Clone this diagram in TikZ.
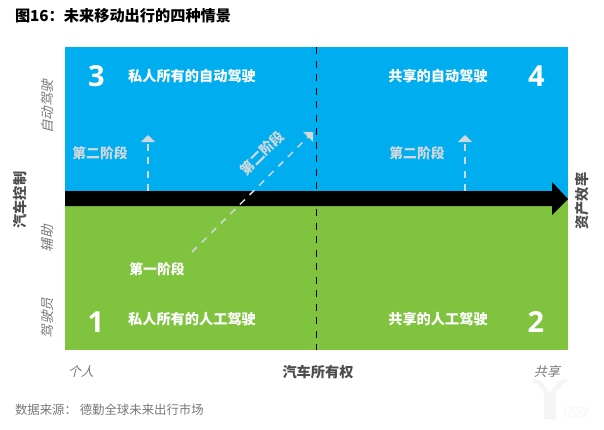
\documentclass[tikz,border=0pt]{standalone}
\usepackage{fontspec}
\setmainfont{Open Sans}
\newfontfamily\cjk{Noto Sans CJK SC}
\usetikzlibrary{arrows.meta}
\definecolor{skyb}{HTML}{00AEEF}
\definecolor{leaf}{HTML}{80C33F}
\definecolor{pale}{HTML}{CFD8DC}
\definecolor{greyt}{HTML}{77787B}
\definecolor{darkt}{HTML}{4D4D4F}
\definecolor{wmk}{HTML}{F5F5F5}
\tikzset{
 x=1pt,y=-1pt,
 nd/.style={inner sep=0pt,outer sep=0pt},
 scen/.style={nd,text=white,font=\cjk\bfseries\fontsize{14.2}{16}\selectfont},
 num/.style={nd,text=white,font=\bfseries\fontsize{29}{32}\selectfont},
 stage/.style={nd,text=pale,font=\cjk\bfseries\fontsize{13.8}{16}\selectfont},
 stage1/.style={nd,text=white,font=\cjk\bfseries\fontsize{13.8}{16}\selectfont},
 axisb/.style={nd,text=darkt,font=\cjk\bfseries\fontsize{14.2}{16}\selectfont},
 tick/.style={nd,text=greyt,font=\cjk\fontsize{13}{15}\selectfont,xslant=0.25},
 vtick/.style={nd,text=greyt,font=\cjk\fontsize{13.4}{15}\selectfont,rotate=90,xslant=0.25},
 dsh/.style={draw=pale,line width=1.5pt,dash pattern=on 7pt off 6.5pt},
 tipa/.style={-{Triangle[width=14pt,length=7pt]}},
}
\begin{document}
\begin{tikzpicture}
\useasboundingbox (0,0) rectangle (604,429);
\fill[skyb] (65,47) rectangle (568,199);
\fill[leaf] (65,199) rectangle (568,350);
\draw[black,line width=1.9pt,dash pattern=on 7pt off 6.5pt] (316.5,47) -- (316.5,350);
\fill[black] (65,191) -- (552,191) -- (552,182) -- (568,199) -- (552,215) -- (552,206) -- (65,206) -- cycle;

\node[nd,anchor=west,font=\cjk\bfseries\fontsize{15.2}{17}\selectfont] (title) at (15,16) {图16：未来移动出行的四种情景};

\node[num] (n3) at (96.5,76) {3};
\node[num] (n4) at (536.5,76) {4};
\node[num] (n1) at (96,322) {1};
\node[num] (n2) at (536,322) {2};

\node[scen] (s3) at (192,76) {私人所有的自动驾驶};
\node[scen] (s4) at (438,76) {共享的自动驾驶};
\node[scen] (s1) at (192,319) {私人所有的人工驾驶};
\node[scen] (s2) at (438,319) {共享的人工驾驶};

\node[stage] (a) at (100,153) {第二阶段};
\node[stage] (b) at (417,153) {第二阶段};
\node[stage,rotate=45] (c) at (262,153) {第二阶段};
\node[stage1] (d) at (157,269) {第一阶段};

\coordinate (a0) at (148,191); \coordinate (a1) at (148,135);
\coordinate (b0) at (465,191); \coordinate (b1) at (465,135);
\coordinate (c0) at (192,252); \coordinate (c1) at (313,132);
\draw[dsh,tipa] (a0) -- (a1);
\draw[dsh,tipa] (b0) -- (b1);
\draw[dsh,tipa] (c0) -- (c1);

\node[axisb,rotate=90] (yl) at (20,200) {汽车控制};
\node[axisb,rotate=90] (xr) at (582.5,201) {资产效率};
\node[axisb] (xl) at (318,372) {汽车所有权};

\node[vtick] (t1) at (47,105.5) {自动驾驶};
\node[vtick] (t2) at (47,237.5) {辅助};
\node[vtick] (t3) at (47,317) {驾驶员};
\node[tick] (t4) at (82,372) {个人};
\node[tick] (t5) at (548,372) {共享};

\node[nd,anchor=west,text=greyt,font=\cjk\fontsize{12.4}{14}\selectfont] (src) at (15,410) {数据来源： 德勤全球未来出行市场};

\foreach \r in {0,6,12}{
 \draw[wmk,line width=4pt] (533+\r,381+\r*0.9) .. controls (541+\r*0.6,381+\r*0.9) and (546+\r*0.3,388+\r*0.5) .. (546+\r*0.33,398) -- (546+\r*0.33,419);
}
\foreach \r in {0,6,12}{
 \draw[wmk,line width=4pt] (567-\r,381+\r*0.9) .. controls (559-\r*0.6,381+\r*0.9) and (554-\r*0.3,388+\r*0.5) .. (554-\r*0.33,398) -- (554-\r*0.33,419);
}
\node[nd,text=wmk,font=\cjk\fontsize{13}{15}\selectfont] (wm) at (576,413) {亿欧};
\end{tikzpicture}
\end{document}
